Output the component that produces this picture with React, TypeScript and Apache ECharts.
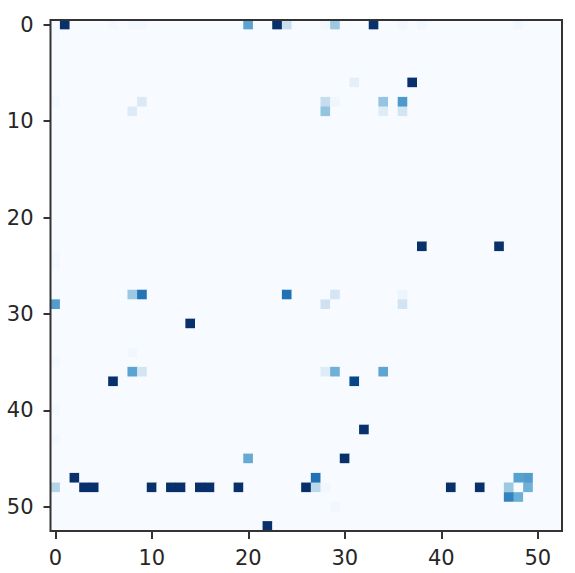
import React, { useEffect, useRef } from "react";
import * as echarts from "echarts";

const gridSize = 53;
const axisIndices: string[] = Array.from({ length: gridSize }, (_, i) => String(i));

// Non-zero cells (row, column, value 0..1); all other cells are 0
const cellRows = [
  0, 0, 0, 0, 0, 0, 0, 0, 0, 0, 0, 0, 0,
  1,
  6, 6,
  8, 8, 8, 8, 8, 8,
  9, 9, 9, 9,
  23, 23,
  24, 25,
  28, 28, 28, 28, 28,
  29, 29, 29,
  31,
  34, 35,
  36, 36, 36, 36, 36,
  37, 37,
  40, 42, 43,
  45, 45,
  47, 47, 47, 47,
  48, 48, 48, 48, 48, 48, 48, 48, 48, 48, 48, 48, 48, 48, 48, 48,
  49, 49,
  50,
  52,
];
const cellCols = [
  1, 6, 8, 9, 20, 23, 24, 28, 29, 33, 36, 38, 48,
  0,
  31, 37,
  0, 9, 28, 29, 34, 36,
  8, 28, 34, 36,
  38, 46,
  0, 0,
  8, 9, 24, 29, 36,
  0, 28, 36,
  14,
  8, 0,
  8, 9, 28, 29, 34,
  6, 31,
  0, 32, 0,
  20, 30,
  2, 27, 48, 49,
  0, 3, 4, 10, 12, 13, 15, 16, 19, 26, 27, 28, 41, 44, 47, 49,
  47, 48,
  29,
  22,
];
const cellValues = [
  1.0, 0.02, 0.02, 0.02, 0.55, 1.0, 0.23, 0.03, 0.38, 1.0, 0.03, 0.03, 0.03,
  0.02,
  0.09, 1.0,
  0.02, 0.14, 0.24, 0.04, 0.4, 0.59,
  0.13, 0.4, 0.12, 0.18,
  1.0, 1.0,
  0.02, 0.02,
  0.38, 0.74, 0.75, 0.17, 0.05,
  0.58, 0.2, 0.19,
  1.0,
  0.03, 0.02,
  0.55, 0.18, 0.12, 0.49, 0.54,
  1.0, 0.92,
  0.02, 1.0, 0.02,
  0.52, 1.0,
  1.0, 0.75, 0.56, 0.58,
  0.3, 1.0, 1.0, 1.0, 1.0, 1.0, 1.0, 1.0, 1.0, 1.0, 0.28, 0.03, 1.0, 1.0, 0.38, 0.49,
  0.68, 0.5,
  0.03,
  1.0,
];

const bluesRamp = [
  "#f7fbff", "#deebf7", "#c6dbef", "#9ecae1", "#6baed6",
  "#4292c6", "#2171b5", "#08519c", "#08306b",
];

export default function App() {
  const ref = useRef<HTMLDivElement>(null);

  useEffect(() => {
    if (!ref.current) return;
    const chart = echarts.init(ref.current, undefined, { renderer: "svg" });

    const lookup = new Map<string, number>();
    cellRows.forEach((r, i) => lookup.set(r + "," + cellCols[i], cellValues[i]));
    const data: [number, number, number][] = [];
    for (let r = 0; r < gridSize; r++) {
      for (let c = 0; c < gridSize; c++) {
        data.push([c, r, lookup.get(r + "," + c) ?? 0]);
      }
    }

    const labelStyle = {
      color: "#262626",
      fontSize: 21,
      fontFamily: "DejaVu Sans",
    };

    chart.setOption({
      animation: false,
      backgroundColor: "#ffffff",
      grid: {
        left: 50.5,
        top: 20,
        width: 511.5,
        height: 511,
        show: true,
        borderColor: "#333333",
        borderWidth: 2,
        backgroundColor: "transparent",
        z: 10,
      },
      xAxis: {
        type: "category",
        data: axisIndices,
        boundaryGap: true,
        axisLine: { show: false },
        axisTick: {
          show: true,
          interval: 9,
          alignWithLabel: true,
          length: 8,
          lineStyle: { color: "#333333", width: 2 },
        },
        axisLabel: { ...labelStyle, interval: 9, margin: 16 },
        splitLine: { show: false },
      },
      yAxis: {
        type: "category",
        data: axisIndices,
        inverse: true,
        boundaryGap: true,
        axisLine: { show: false },
        axisTick: {
          show: true,
          interval: 9,
          alignWithLabel: true,
          length: 7,
          lineStyle: { color: "#333333", width: 2 },
        },
        axisLabel: { ...labelStyle, interval: 9, margin: 17 },
        splitLine: { show: false },
      },
      visualMap: {
        show: false,
        type: "continuous",
        min: 0,
        max: 1,
        dimension: 2,
        inRange: { color: bluesRamp },
      },
      series: [
        {
          type: "heatmap",
          data,
          itemStyle: { borderWidth: 0 },
          emphasis: { disabled: true },
          progressive: 0,
        },
      ],
    });

    return () => chart.dispose();
  }, []);

  return (
    <div
      ref={ref}
      style={{ position: "fixed", left: 0, top: 0, width: 575, height: 573 }}
    />
  );
}
